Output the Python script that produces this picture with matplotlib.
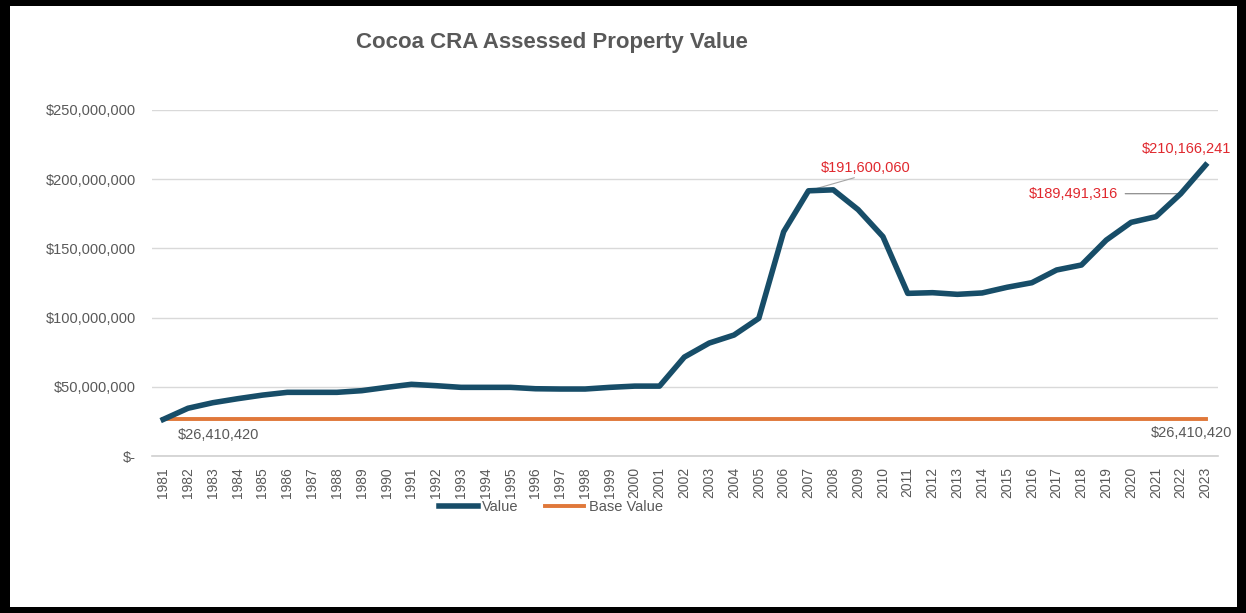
import matplotlib
matplotlib.use("Agg")
import matplotlib.pyplot as plt
from matplotlib.patches import Rectangle
from matplotlib.ticker import FuncFormatter

# Assessed values (dollars)
years = list(range(1981, 2024))
value = [26410420, 34500000, 38500000, 41400000, 44000000, 46000000, 46000000,
         46000000, 47200000, 49600000, 51800000, 50800000, 49600000, 49600000,
         49600000, 48600000, 48400000, 48400000, 49600000, 50500000, 50500000,
         71500000, 81600000, 87400000, 99500000, 162000000, 191600060, 192300000,
         178000000, 158500000, 117500000, 118000000, 116800000, 117800000,
         121900000, 125200000, 134400000, 138000000, 156000000, 168800000,
         172900000, 189491316, 210166241]
base_value = [26410420] * len(years)
yticks = [0, 50000000, 100000000, 150000000, 200000000, 250000000]

GRAY = "#595959"
RED = "#E0282E"
plt.rcParams['font.family'] = ['Liberation Sans', 'DejaVu Sans']


def money(v, pos=None):
    if v == 0:
        return "$-"
    return "${:,.0f}".format(v)


def main():
    fig = plt.figure(figsize=(12.46, 6.13), dpi=100)
    fig.patch.set_facecolor("black")
    # white chart area inside the black frame
    fig.patches.append(Rectangle((10 / 1246, 6 / 613), 1227 / 1246, 601 / 613,
                                 transform=fig.transFigure, facecolor="white",
                                 edgecolor="none", zorder=-5))

    ax = fig.add_axes([0.122, 0.2561, 0.8555, 0.5645])
    ax.set_facecolor("none")
    x = list(range(len(years)))

    ax.plot(x, base_value, color="#E0783A", lw=2.8, label="Base Value", zorder=3)
    ax.plot(x, value, color="#174D68", lw=4, label="Value", zorder=4,
            solid_joinstyle="round")

    ax.set_xlim(-0.45, 42.5)
    ax.set_ylim(0, 250000000)
    ax.set_yticks(yticks)
    ax.yaxis.set_major_formatter(FuncFormatter(money))
    ax.set_xticks(x)
    ax.set_xticklabels([str(y) for y in years], rotation=90)
    ax.tick_params(axis="y", length=0, pad=11.7, labelsize=10.5, labelcolor=GRAY)
    ax.tick_params(axis="x", length=0, pad=8, labelsize=10, labelcolor=GRAY)
    ax.grid(axis="y", color="#D9D9D9", lw=1)
    ax.axhline(0, color="#D0D0D0", lw=1.2, clip_on=False, zorder=1)
    ax.set_axisbelow(True)
    for s in ax.spines.values():
        s.set_visible(False)

    # data labels
    ax.annotate(money(base_value[0]), (0, base_value[0]), xytext=(10.5, -11),
                textcoords="offset points", ha="left", va="center",
                fontsize=10.5, color=GRAY)
    ax.annotate(money(base_value[-1]), (42, base_value[-1]), xytext=(-10, -9.5),
                textcoords="offset points", ha="center", va="center",
                fontsize=10.5, color=GRAY)
    ax.annotate(money(value[26]), (26, value[26]), xytext=(41, 11.7),
                textcoords="offset points", ha="center", va="bottom",
                fontsize=10.5, color=RED,
                arrowprops=dict(arrowstyle="-", color="#A6A6A6", lw=0.8,
                                relpos=(0.5, 0), shrinkA=1, shrinkB=0))
    ax.annotate(money(value[41]), (41, value[41]), xytext=(-45, 0),
                textcoords="offset points", ha="right", va="center",
                fontsize=10.5, color=RED,
                arrowprops=dict(arrowstyle="-", color="#7F7F7F", lw=0.8,
                                relpos=(1, 0.5), shrinkA=3, shrinkB=-2))
    ax.annotate(money(value[42]), (42, value[42]), xytext=(-14, 6.2),
                textcoords="offset points", ha="center", va="bottom",
                fontsize=10.5, color=RED)

    fig.text(0.443, 0.93, "Cocoa CRA Assessed Property Value", ha="center",
             va="center", fontsize=16, fontweight="bold", color=GRAY)

    handles, labels = ax.get_legend_handles_labels()
    fig.legend(handles[::-1], labels[::-1], loc="center", ncol=2,
               bbox_to_anchor=(0.442, 0.173), frameon=False, fontsize=10.5,
               handlelength=2.7, handletextpad=0.3, columnspacing=1.8,
               labelcolor=GRAY)

    fig.savefig("out.png", dpi=100, facecolor=fig.get_facecolor())


if __name__ == "__main__":
    main()
